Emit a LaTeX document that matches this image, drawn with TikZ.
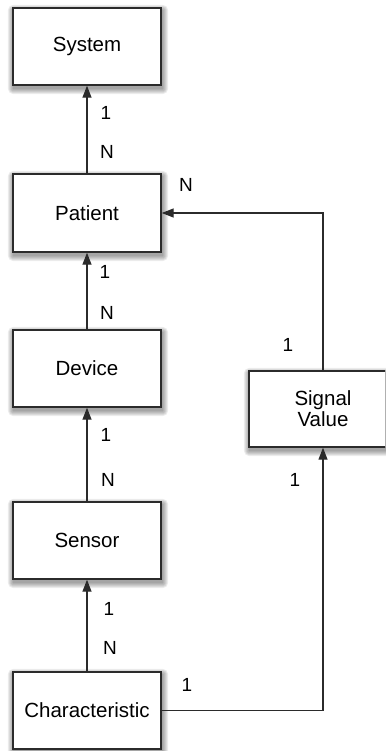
\documentclass[tikz,border=0pt]{standalone}
\usepackage{fontspec}
\setmainfont{Liberation Sans}
\usetikzlibrary{arrows.meta,calc,backgrounds}
\definecolor{edge}{HTML}{2B2B2B}
\tikzset{
  entity/.style={draw=edge, line width=1.4pt, fill=white,
    minimum width=148pt, minimum height=77pt, inner sep=0pt, align=center,
    font=\fontsize{20.5}{23}\selectfont},
  rel/.style={draw=edge, line width=1.3pt, -{Triangle[length=12pt,width=9pt]}},
  card/.style={font=\fontsize{19}{21}\selectfont, inner sep=0pt},
  halo/.style={fill=black, opacity=0.07}
}
\begin{document}
\begin{tikzpicture}[x=1pt,y=-1pt]
\useasboundingbox (0,0) rectangle (385,751);
\clip (0,0) rectangle (385,751);
% entities
\node[entity] (system)  at (87,46.5)  {System};
\node[entity, minimum height=78pt] (patient) at (87,213) {Patient};
\node[entity] (device)  at (87,368.5) {Device};
\node[entity] (sensor)  at (87,540.5) {Sensor};
\node[entity] (charac)  at (87,710.5) {Characteristic};
\node[entity, minimum height=76pt] (signal) at (323,409) {Signal\\[-2pt]Value};
% soft drop shadows behind the boxes
\begin{scope}[on background layer]
  \foreach \n in {system,patient,device,sensor,charac,signal}{
    \foreach \r in {0.5,1.5,...,5.5}{
      \fill[halo, rounded corners=\r pt]
        ($(\n.north west)+(1-\r,3-\r)$) rectangle ($(\n.south east)+(1+\r,3+\r)$);
    }
  }
\end{scope}
% relationships
\draw[rel] (patient.north) -- (system.south);
\draw[rel] (device.north) -- (patient.south);
\draw[rel] (sensor.north) -- (device.south);
\draw[rel] (charac.north) -- (sensor.south);
\draw[rel] (signal.north) |- (patient.east);
\draw[rel] (charac.east) -| (signal.south);
% cardinalities
\node[card] (c1) at (106,113) {1};
\node[card] (c2) at (107,152) {N};
\node[card] (c3) at (105,272) {1};
\node[card] (c4) at (107,313) {N};
\node[card] (c5) at (106,435) {1};
\node[card] (c6) at (108,480) {N};
\node[card] (c7) at (109,609) {1};
\node[card] (c8) at (110,648) {N};
\node[card] (c9) at (186,185) {N};
\node[card] (c10) at (288,345) {1};
\node[card] (c11) at (295,480) {1};
\node[card] (c12) at (187,685) {1};
\end{tikzpicture}
\end{document}
